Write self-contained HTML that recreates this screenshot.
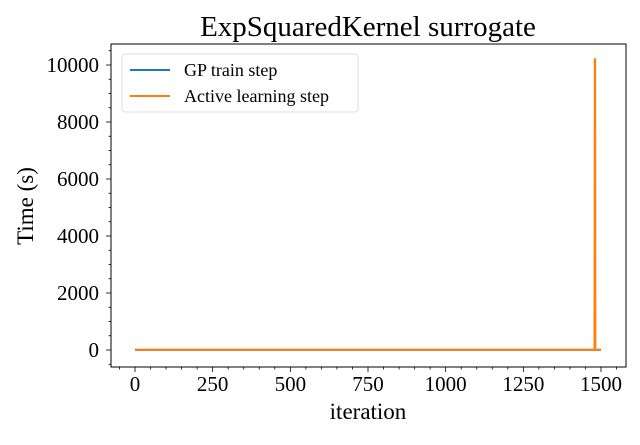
<!DOCTYPE html>
<html><head><meta charset="utf-8"><style>
body{margin:0;background:#fff}
text{font-family:"Liberation Serif",serif;fill:#000}
</style></head><body>
<svg id="c" width="640" height="440"></svg>
<script>
const iterations=[0,1479,1480,1481,1482,1500];
const gpTrain=[5,5,5,5,5,5];
const activeLearning=[10,10,10200,10200,10,10];
const xTicks=[0,250,500,750,1000,1250,1500];
const yTicks=[0,2000,4000,6000,8000,10000];
const L=111,R=626,T=44,B=367;
const sx=v=>135+v*(466/1500), sy=v=>350-v*(285/10000);
const svg=document.getElementById('c');const NS='http://www.w3.org/2000/svg';
function el(t,a,txt){const e=document.createElementNS(NS,t);for(const k in a)e.setAttribute(k,a[k]);if(txt!==undefined)e.textContent=txt;svg.appendChild(e);return e;}
let e;
e=el('text',{x:368,y:36,'text-anchor':'middle','font-size':29},'ExpSquaredKernel surrogate');

for(let v=-50;v<=1550;v+=50){const x=sx(v);if(x<L||x>R)continue;const maj=xTicks.includes(v);
el('line',{x1:x,x2:x,y1:B,y2:B+(maj?5:2.5),stroke:'#000','stroke-width':0.8});}
xTicks.forEach(v=>{e=el('text',{x:sx(v),y:391,'text-anchor':'middle','font-size':21},v);
});
for(let v=-500;v<=11000;v+=500){const y=sy(v);if(y<T||y>B)continue;const maj=yTicks.includes(v);
el('line',{x1:L,x2:L-(maj?5:2.5),y1:y,y2:y,stroke:'#000','stroke-width':0.8});}
yTicks.forEach(v=>{e=el('text',{x:99,y:sy(v)+7,'text-anchor':'end','font-size':21},v);
});
e=el('text',{x:368,y:419,'text-anchor':'middle','font-size':23},'iteration');

e=el('text',{x:33,y:206,'text-anchor':'middle','font-size':23,transform:'rotate(-90 33 206)'},'Time (s)');

const pts=(ys)=>iterations.map((v,i)=>sx(v)+','+sy(ys[i])).join(' ');
e=el('polyline',{points:pts(gpTrain),fill:'none',stroke:'#1f77b4','stroke-width':2});

e=el('polyline',{points:pts(activeLearning),fill:'none',stroke:'#ff7f0e','stroke-width':2});

e=el('rect',{x:L,y:T,width:R-L,height:B-T,fill:'none',stroke:'#000','stroke-width':1});

e=el('rect',{x:122,y:54,width:236,height:58,rx:3,fill:'#fff','fill-opacity':0.8,stroke:'#ddd'});

el('line',{x1:130,x2:170,y1:70,y2:70,stroke:'#1f77b4','stroke-width':2});
e=el('text',{x:184,y:76,'font-size':18},'GP train step');

el('line',{x1:130,x2:170,y1:96,y2:96,stroke:'#ff7f0e','stroke-width':2});
e=el('text',{x:184,y:102,'font-size':18},'Active learning step');

</script>
</body></html>
